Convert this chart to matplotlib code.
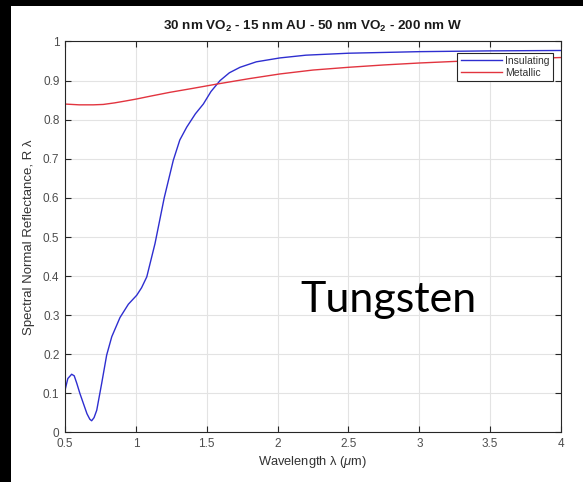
import matplotlib
matplotlib.use("Agg")
import matplotlib.pyplot as plt
from matplotlib.patches import Rectangle

# ---- data ----
ins_wl = [0.5, 0.52, 0.547, 0.565, 0.583, 0.605, 0.629, 0.655, 0.675, 0.688, 0.705,
          0.724, 0.759, 0.794, 0.83, 0.888, 0.947, 1.006, 1.04, 1.077, 1.135, 1.2,
          1.264, 1.31, 1.359, 1.42, 1.476, 1.53, 1.594, 1.66, 1.735, 1.85, 2.017,
          2.2, 2.5, 3.0, 3.5, 4.0]
ins_R = [0.108, 0.138, 0.149, 0.145, 0.126, 0.100, 0.075, 0.048, 0.034, 0.030, 0.038,
         0.057, 0.126, 0.198, 0.245, 0.294, 0.328, 0.351, 0.370, 0.398, 0.483, 0.600,
         0.696, 0.748, 0.781, 0.815, 0.840, 0.872, 0.900, 0.920, 0.934, 0.948, 0.958,
         0.965, 0.970, 0.974, 0.976, 0.977]

met_wl = [0.5, 0.6, 0.7, 0.77, 0.85, 0.93, 1.006, 1.1, 1.24, 1.4, 1.57, 1.8, 2.017,
          2.25, 2.5, 2.75, 3.0, 3.25, 3.5, 3.75, 4.0]
met_R = [0.840, 0.838, 0.838, 0.839, 0.843, 0.848, 0.853, 0.860, 0.870, 0.880, 0.891,
         0.905, 0.917, 0.927, 0.934, 0.940, 0.945, 0.949, 0.953, 0.956, 0.959]

series_names = ["Insulating", "Metallic"]
x_ticks = [0.5, 1, 1.5, 2, 2.5, 3, 3.5, 4]
x_tick_labels = ["0.5", "1", "1.5", "2", "2.5", "3", "3.5", "4"]
y_ticks = [0, 0.1, 0.2, 0.3, 0.4, 0.5, 0.6, 0.7, 0.8, 0.9, 1]
y_tick_labels = ["0", "0.1", "0.2", "0.3", "0.4", "0.5", "0.6", "0.7", "0.8", "0.9", "1"]

plt.rcParams['font.family'] = ['Liberation Sans', 'DejaVu Sans']
plt.rcParams['mathtext.fontset'] = 'custom'
plt.rcParams['mathtext.rm'] = 'Liberation Sans'
plt.rcParams['mathtext.it'] = 'Liberation Sans:italic'
plt.rcParams['mathtext.bf'] = 'Liberation Sans:bold'

W, H = 583, 482
fig = plt.figure(figsize=(5.8301, 4.8201), dpi=100)
fig.patch.set_facecolor('white')
# black borders of the screenshot
fig.patches.append(Rectangle((0, 0), 11 / W, 1, transform=fig.transFigure,
                             facecolor='black', edgecolor='none', zorder=-1))
fig.patches.append(Rectangle((0, 1 - 6 / H), 1, 6 / H, transform=fig.transFigure,
                             facecolor='black', edgecolor='none', zorder=-1))

ax = fig.add_axes([65 / W, (H - 432.5) / H, 496 / W, 391 / H])
ax.plot(ins_wl, ins_R, color='#2e2ed0', lw=1.0, label=series_names[0])
ax.plot(met_wl, met_R, color='#e2343f', lw=1.0, label=series_names[1])

ax.set_xlim(0.5, 4)
ax.set_ylim(0, 1)
ax.set_xticks(x_ticks)
ax.set_xticklabels(x_tick_labels)
ax.set_yticks(y_ticks)
ax.set_yticklabels(y_tick_labels)
ax.tick_params(direction='in', top=True, right=True, length=4, width=0.8,
               color='#262626', labelcolor='#4d4d4d', labelsize=8.5, pad=4)
ax.grid(True, color='#e3e3e3', lw=0.8)
ax.set_axisbelow(True)
for s in ax.spines.values():
    s.set_color('#262626')
    s.set_linewidth(0.8)

ax.set_title('30 nm VO$_\\mathbf{2}$ - 15 nm AU - 50 nm VO$_\\mathbf{2}$ - 200 nm W',
             fontsize=9.7, fontweight='bold', color='#1a1a1a', pad=8)
ax.set_xlabel('Wavelength λ ($\\mu$m)', fontsize=9.3, color='#333333', labelpad=3)
ax.set_ylabel('Spectral Normal Reflectance, R λ', fontsize=9.5, color='#333333', labelpad=6)

leg = ax.legend(loc='upper right', bbox_to_anchor=(1 - 8 / 496, 1 - 11.5 / 391),
                borderaxespad=0, fontsize=7.5, fancybox=False, framealpha=1,
                edgecolor='#262626', handlelength=4.0, handletextpad=0.3,
                borderpad=0.3, labelspacing=0.15)
leg.get_frame().set_linewidth(0.8)
for t in leg.get_texts():
    t.set_color('#333333')

fig.text(300 / W, (H - 311.7) / H, 'Tungsten', ha='left', va='baseline',
         fontsize=31, family=['Lato', 'DejaVu Sans'], color='black')

fig.savefig('out.png', dpi=100)
